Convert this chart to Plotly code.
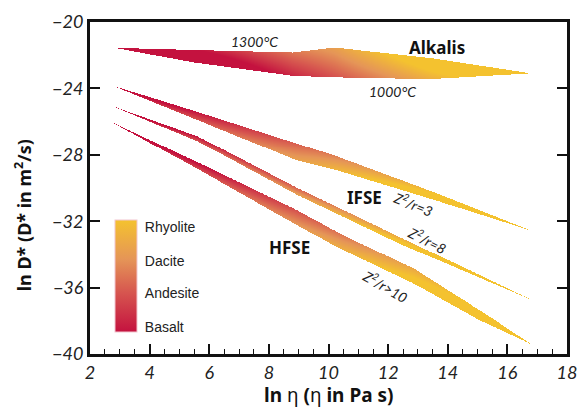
import numpy as np
import plotly.graph_objects as go

# Band outlines in (ln eta, ln D*) space: upper and lower edges of each field
alk_ux = [2.82, 5.5, 8.8, 10.2, 13.5, 16.8]
alk_uy = [-21.57, -21.7, -21.85, -21.55, -22.2, -23.1]
alk_lx = [2.82, 5.5, 8.8, 10.2, 13.4, 16.8]
alk_ly = [-21.57, -22.45, -23.25, -23.34, -23.45, -23.1]

z3_ux = [2.74, 5.6, 8.9, 10.2, 13.6, 16.82]
z3_uy = [-23.83, -25.41, -27.3, -28.05, -30.3, -32.58]
z3_lx = [2.74, 5.6, 8.95, 10.2, 13.6, 16.82]
z3_ly = [-23.83, -25.9, -28.35, -28.9, -30.75, -32.58]

z8_ux = [2.74, 5.6, 8.95, 12.5, 16.83]
z8_uy = [-25.06, -26.88, -30.0, -33.05, -36.76]
z8_lx = [2.74, 5.6, 8.95, 12.5, 16.83]
z8_ly = [-25.06, -27.18, -30.42, -33.45, -36.76]

z10_ux = [2.74, 5.6, 8.9, 10.5, 12.9, 15.1, 16.83]
z10_uy = [-26.04, -28.45, -31.3, -32.85, -34.9, -37.4, -39.43]
z10_lx = [2.74, 5.6, 9.0, 10.5, 12.92, 15.1, 16.83]
z10_ly = [-26.04, -28.85, -32.3, -33.75, -35.83, -37.99, -39.43]

# Colour ramp along each band: (start fraction, ramp length, tilt across band)
alk_ramp = (0.29, 0.45, -0.4)
ifse_ramp = (0.10, 0.60, 0.35)
hfse_ramp = (0.14, 0.60, 0.35)

# Composition legend
comp_names = ["Basalt", "Andesite", "Dacite", "Rhyolite"]
comp_vals = [0.045, 0.34, 0.63, 0.93]

xticks = [2, 4, 6, 8, 10, 12, 14, 16, 18]
yticks = [-40, -36, -32, -28, -24, -20]

colorscale = [
    [0.0, "#c4123f"],
    [0.35, "#d6554f"],
    [0.65, "#e59557"],
    [1.0, "#f4c22f"],
]

bands = [
    (alk_ux, alk_uy, alk_lx, alk_ly, alk_ramp),
    (z3_ux, z3_uy, z3_lx, z3_ly, ifse_ramp),
    (z8_ux, z8_uy, z8_lx, z8_ly, ifse_ramp),
    (z10_ux, z10_uy, z10_lx, z10_ly, hfse_ramp),
]

gx = np.arange(2.5, 17.2, 0.02)
gy = np.arange(-40.0, -20.9, 0.03)
X, Y = np.meshgrid(gx, gy)
Z = np.full(X.shape, np.nan)

for ux, uy, lx, ly, (a, b, tilt) in bands:
    up = np.interp(gx, ux, uy, left=np.nan, right=np.nan)
    lo = np.interp(gx, lx, ly, left=np.nan, right=np.nan)
    UP = np.broadcast_to(up, X.shape)
    LO = np.broadcast_to(lo, X.shape)
    with np.errstate(invalid="ignore", divide="ignore"):
        inside = (Y <= UP) & (Y >= LO)
        frac = (X - ux[0]) / (ux[-1] - ux[0])
        t = (UP - Y) / np.where(UP - LO > 0, UP - LO, 1.0)
        val = np.clip((frac - a) / b + tilt * (t - 0.5), 0, 1)
    Z[inside] = val[inside]

Z = np.round(Z, 3)

fig = go.Figure()
fig.add_trace(go.Heatmap(
    x=gx, y=gy, z=Z,
    zmin=0, zmax=1,
    colorscale=colorscale,
    hoverinfo="skip",
    colorbar=dict(
        x=(116 - 90) / 487, xanchor="left",
        y=(354 - 274) / 339, yanchor="middle",
        len=112, lenmode="pixels",
        thickness=22, thicknessmode="pixels",
        xpad=0, ypad=0,
        outlinewidth=1, outlinecolor="#f2c6cf",
        tickvals=comp_vals, ticktext=comp_names,
        ticks="outside", ticklen=5, tickcolor="rgba(0,0,0,0)",
        tickfont=dict(family="Liberation Sans", size=14, color="#222"),
    ),
))

ital = dict(family="Lato", size=14, color="#222", style="italic")
bold = dict(family="Noto Sans", size=17, color="#111", weight="bold")

ann = [
    dict(x=7.51, y=-21.18, text="1300°C", font=ital),
    dict(x=12.16, y=-24.19, text="1000°C", font=ital),
    dict(x=13.64, y=-21.53, text="Alkalis", font=bold),
    dict(x=11.21, y=-30.56, text="IFSE", font=bold),
    dict(x=8.69, y=-33.57, text="HFSE", font=bold),
    dict(x=12.85, y=-30.91, text="Z<sup>2</sup>/r=3", font=ital, textangle=22),
    dict(x=13.31, y=-33.1, text="Z<sup>2</sup>/r=8", font=ital, textangle=27),
    dict(x=11.9, y=-35.87, text="Z<sup>2</sup>/r&gt;10", font=ital, textangle=30),
]
for a_ in ann:
    fig.add_annotation(showarrow=False, xref="x", yref="y",
                       xanchor="center", yanchor="middle", **a_)

fig.add_annotation(
    x=(334 - 90) / 487, y=(354 - 396) / 339, xref="paper", yref="paper",
    xanchor="center", yanchor="middle",
    text="<b>ln</b> η <b>(</b>η <b>in Pa s)</b>", showarrow=False,
    font=dict(family="Noto Sans", size=19, color="#111"),
)
fig.add_annotation(
    x=(22 - 90) / 487, y=(354 - 212) / 339, xref="paper", yref="paper",
    xanchor="center", yanchor="middle",
    text="<b>ln D* (D* in m<sup>2</sup>/s)</b>", showarrow=False,
    font=dict(family="Noto Sans", size=18, color="#111"),
    textangle=-90,
)

tickfont = dict(family="Lato", size=18, color="#222", style="italic")
fig.update_xaxes(
    range=[2, 18], tickvals=xticks,
    ticks="inside", ticklen=10, tickwidth=1.5,
    tickcolor="#111", linewidth=3, linecolor="#111", mirror=True,
    showgrid=False, zeroline=False, tickfont=tickfont,
    minor=dict(dtick=0.5, tick0=2, ticks="inside", ticklen=5, tickwidth=1.2, tickcolor="#111"),
)
fig.update_yaxes(
    range=[-40, -20], tickvals=yticks,
    ticks="inside", ticklen=10, tickwidth=1.5,
    tickcolor="#111", linewidth=3, linecolor="#111", mirror="ticks",
    showgrid=False, zeroline=False, tickfont=tickfont,
)
fig.update_layout(
    width=587, height=415,
    margin=dict(l=90, r=10, t=15, b=61),
    plot_bgcolor="white", paper_bgcolor="white",
    showlegend=False,
)
fig.write_html("out.html")
